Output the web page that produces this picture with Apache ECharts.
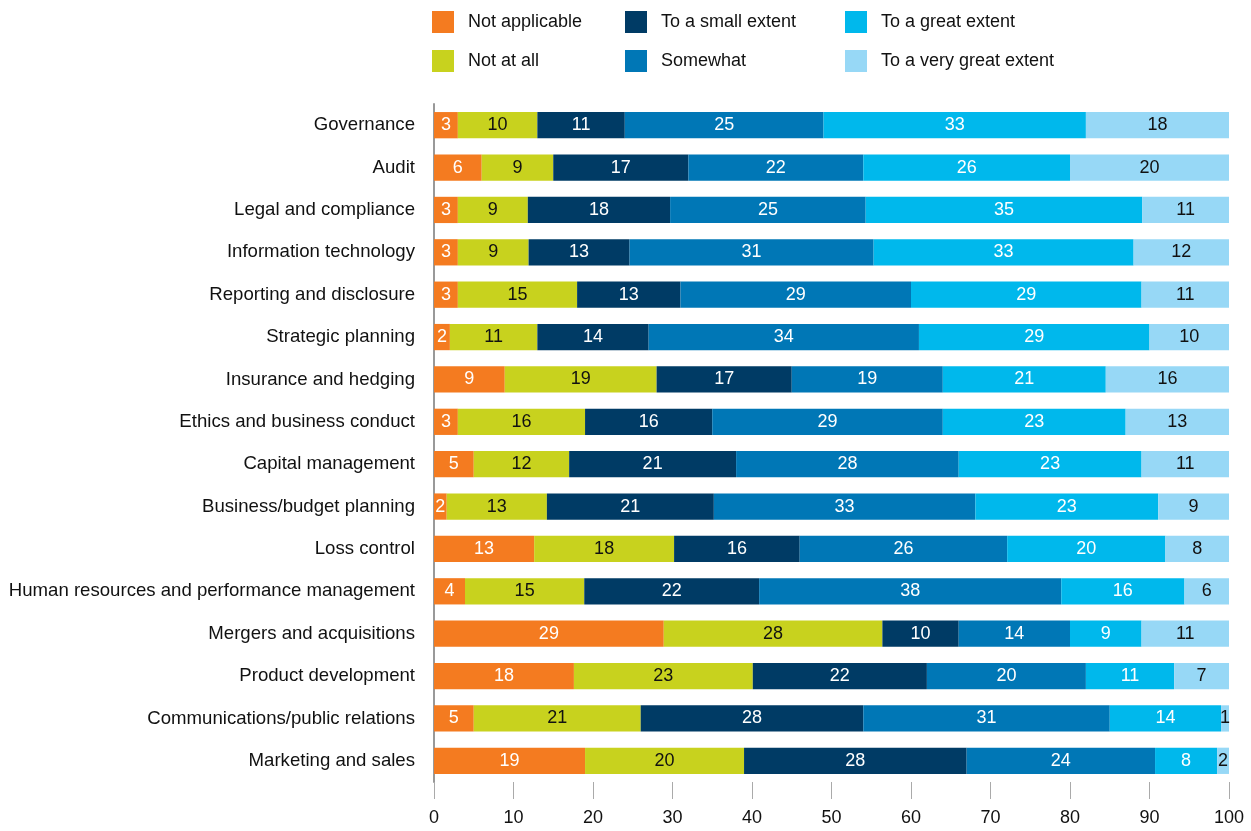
<!DOCTYPE html>
<html>
<head>
<meta charset="utf-8">
<title>Stacked bar</title>
<script src="https://cdn.jsdelivr.net/npm/echarts@6/dist/echarts.min.js"></script>
<style>
  html, body { margin: 0; padding: 0; background: #fff; }
  #chart { width: 1251px; height: 831px; }
</style>
</head>
<body>
<div id="chart"></div>
<script>
// data, top row first
const categories = [
  'Governance', 'Audit', 'Legal and compliance', 'Information technology',
  'Reporting and disclosure', 'Strategic planning', 'Insurance and hedging',
  'Ethics and business conduct', 'Capital management', 'Business/budget planning',
  'Loss control', 'Human resources and performance management',
  'Mergers and acquisitions', 'Product development',
  'Communications/public relations', 'Marketing and sales'
]
const seriesNames = [
  'Not applicable', 'Not at all', 'To a small extent',
  'Somewhat', 'To a great extent', 'To a very great extent'
]
const notApplicable = [3, 6, 3, 3, 3, 2, 8.9, 3, 5, 1.6, 12.6, 3.9, 28.9, 17.6, 5, 19]
const notAtAll = [10, 9, 8.8, 8.9, 15, 11, 19.1, 16, 12, 12.6, 17.6, 15, 27.5, 22.5, 21, 20]
const smallExtent = [11, 17, 17.9, 12.7, 13, 14, 17, 16, 21, 21, 15.8, 22, 9.6, 21.9, 28, 28]
const somewhat = [25, 22, 24.6, 30.7, 29, 34, 19, 29, 28, 32.9, 26.1, 38, 14, 20, 31, 23.7]
const greatExtent = [33, 26, 34.8, 32.7, 29, 29, 20.5, 23, 23, 23, 19.9, 15.5, 9, 11.1, 14, 7.8]
const veryGreatExtent = [18, 20, 10.9, 12, 11, 10, 15.5, 13, 11, 8.9, 8, 5.6, 11, 6.9, 1, 1.5]
const xTicks = [0, 10, 20, 30, 40, 50, 60, 70, 80, 90, 100]

const colors = ['#f47b20', '#c8d21e', '#003b65', '#0077b6', '#00b8ec', '#97d8f6']
const labelColors = ['#fff', '#111', '#fff', '#fff', '#fff', '#111']
const values = [notApplicable, notAtAll, smallExtent, somewhat, greatExtent, veryGreatExtent]

const font = "'Liberation Sans', Arial, sans-serif"

const chart = echarts.init(document.getElementById('chart'))

const legendBase = {
  orient: 'vertical',
  top: 6,
  itemWidth: 22,
  itemHeight: 22,
  itemGap: 17,
  icon: 'rect',
  selectedMode: false,
  textStyle: { fontFamily: font, fontSize: 18, color: '#111', padding: [0, 0, 0, 9] }
}

const option = {
  animation: false,
  color: colors,
  legend: [
    Object.assign({ left: 427, data: seriesNames.slice(0, 2) }, legendBase),
    Object.assign({ left: 620, data: seriesNames.slice(2, 4) }, legendBase),
    Object.assign({ left: 840, data: seriesNames.slice(4, 6) }, legendBase)
  ],
  grid: { left: 434, right: 22, top: 104, bottom: 49 },
  xAxis: {
    type: 'value',
    min: 0,
    max: 100,
    interval: 10,
    splitLine: { show: false },
    axisLine: { show: false },
    axisTick: { show: true, length: 17, lineStyle: { color: '#aaa', width: 1 } },
    axisLabel: {
      margin: 27,
      fontFamily: font,
      fontSize: 18,
      color: '#111',
      formatter: v => (xTicks.includes(v) ? String(v) : '')
    }
  },
  yAxis: {
    type: 'category',
    inverse: true,
    data: categories,
    axisLine: { show: true, lineStyle: { color: '#999', width: 2 } },
    axisTick: { show: false },
    axisLabel: { margin: 19, fontFamily: font, fontSize: 18.6, color: '#111' }
  },
  series: seriesNames.map((name, i) => ({
    name: name,
    type: 'bar',
    stack: 'total',
    barCategoryGap: '38%',
    data: values[i],
    itemStyle: { color: colors[i] },
    label: {
      show: true,
      position: 'inside',
      fontFamily: font,
      fontSize: 18,
      color: labelColors[i],
      formatter: p => Math.round(p.value)
    }
  }))
}

chart.setOption(option)
</script>
</body>
</html>
